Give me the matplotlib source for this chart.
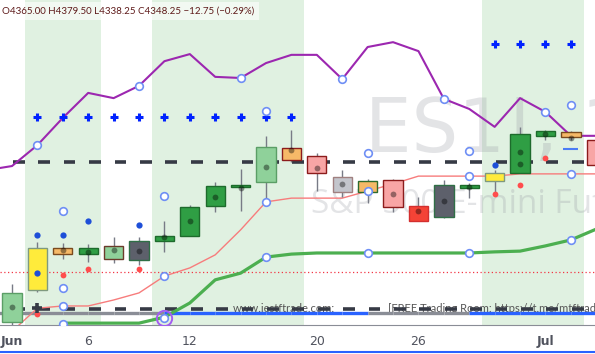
import matplotlib
matplotlib.use("Agg")
import matplotlib.pyplot as plt

# daily bars, Jun 1 .. Jul 6 (index 0..23), prices
bars = list(range(24))
opens = [4243.25, 4264.75, 4292.75, 4288.75, 4285.5, 4297.5, 4297.5, 4301.0, 4321.0, 4333.75, 4337.0, 4351.75,
         4354.5, 4340.5, 4330.25, 4338.5, 4321.0, 4313.5, 4333.0, 4337.75, 4343.0, 4368.0, 4370.5, 4365.0]
highs = [4268.75, 4297.0, 4296.25, 4295.5, 4300.25, 4300.25, 4311.0, 4321.75, 4337.0, 4345.75, 4367.75, 4372.0,
         4356.5, 4345.0, 4339.0, 4339.0, 4327.0, 4338.5, 4336.5, 4345.0, 4374.0, 4372.0, 4371.25, 4379.5]
lows = [4239.25, 4263.5, 4285.5, 4283.5, 4282.75, 4281.5, 4290.25, 4301.0, 4317.0, 4317.5, 4325.0, 4350.5,
        4331.0, 4327.0, 4323.0, 4317.0, 4311.0, 4313.0, 4326.25, 4329.75, 4343.0, 4365.25, 4365.25, 4338.25]
closes = [4262.75, 4292.75, 4288.75, 4292.75, 4294.25, 4284.75, 4301.0, 4320.25, 4334.5, 4335.0, 4360.5, 4359.75,
          4343.0, 4330.25, 4337.75, 4320.25, 4311.0, 4335.0, 4335.0, 4343.0, 4369.25, 4371.25, 4367.25, 4348.25]

tick_bars = [0, 3, 7, 12, 16, 21]
tick_labels = ["Jun", "6", "12", "20", "26", "Jul"]

shaded_bars = [1, 2, 3, 6, 7, 8, 9, 10, 11, 19, 20, 21, 22]

# purple line starts one bar before the window (-1)
purple_bars = list(range(-1, 24))
purple = [4345.0, 4347.75, 4361.75, 4380.0, 4396.75, 4393.25, 4401.5, 4418.0, 4422.75, 4407.5, 4406.75, 4416.75,
          4422.25, 4422.25, 4406.0, 4427.5, 4430.75, 4424.75, 4392.75, 4386.0, 4374.0, 4393.25, 4384.0, 4368.0, 4368.0]
salmon = [4237.0, 4252.5, 4254.0, 4254.0, 4258.0, 4262.75, 4274.0, 4279.5, 4288.25, 4305.0, 4323.75, 4326.25,
          4326.25, 4326.25, 4331.0, 4335.75, 4341.0, 4341.0, 4341.0, 4341.0, 4342.5, 4342.5, 4342.5, 4342.5]
green_bars = list(range(2, 24))
green = [4242.5, 4242.5, 4242.5, 4242.5, 4246.5, 4256.0, 4271.5, 4276.0, 4286.75, 4288.75, 4289.5, 4289.5,
         4289.5, 4289.5, 4289.5, 4289.5, 4289.5, 4290.25, 4290.75, 4294.25, 4298.25, 4305.5]

upper_level = 4350.5
lower_level = 4252.0
trend_level = 4249.25
red_level = 4276.75
trend_up = [False] * 6 + [True] * 8 + [False] * 4 + [True] * 6

plus_low_bars = list(range(1, 12))
plus_low = 4380.5
plus_high_bars = [19, 20, 21, 22]
plus_high = 4429.5

dot_bars = [0, 2, 3, 4, 5, 6, 7, 8, 9, 10, 11, 12, 13, 15, 16, 17, 18, 20, 20, 21, 22]
dot_levels = [4253.25, 4291.5, 4290.25, 4291.5, 4290.75, 4300.25, 4311.0, 4327.0, 4333.0, 4347.25, 4358.5,
              4346.5, 4335.75, 4329.0, 4317.5, 4324.25, 4333.75, 4357.25, 4349.0, 4369.25, 4366.5]
blue_bars = [1, 1, 2, 3, 5, 19]
blue_levels = [4301.5, 4276.0, 4301.5, 4311.0, 4308.25, 4348.5]
red_bars = [1, 2, 3, 5, 19, 20, 21]
red_levels = [4248.5, 4274.75, 4278.75, 4278.75, 4329.0, 4335.0, 4353.0]
ring_bars = [1, 2, 2, 2, 2, 5, 6, 6, 6, 9, 10, 10, 10, 13, 14, 14, 14, 17, 18, 18, 18, 21, 22, 22, 22]
ring_levels = [4361.75, 4317.5, 4266.0, 4254.0, 4242.0, 4401.5, 4327.75, 4274.0, 4246.0, 4406.75, 4384.5,
               4323.75, 4286.75, 4406.0, 4356.5, 4331.0, 4289.5, 4392.75, 4357.75, 4341.0, 4289.5, 4384.0,
               4388.75, 4342.5, 4298.25]
big_ring = (6, 4246.0)
cross = (1, 4252.5)
stop_mark = (22, 4359.25)

# candle styles
LG, LGE = "#8fd19a", "#5b9e66"
YE, YEE = "#ffeb3b", "#7f9a7f"
OR = "#f6b968"
GR, GRE = "#2f9e44", "#1e6b2c"
DG = "#5d606b"
PK, PKE = "#f8a5a5", "#8c1c1c"
body_colors = [LG, YE, OR, GR, LG, DG, GR, GR, GR, GR, LG, OR, PK, "#c3c5cc", OR, PK, "#f44336", DG,
               GR, YE, GR, GR, OR, PK]
edge_colors = [LGE, YEE, "#7a4a1e", GRE, "#6b3b2b", "#2f6f46", GRE, GRE, GRE, GRE, LGE, PKE, PKE, "#a08080",
               "#2e6b2e", PKE, "#d32f2f", "#2f6f46", GRE, YEE, GRE, GRE, "#7a4a1e", PKE]

fig = plt.figure(figsize=(5.95, 3.54), dpi=100)
ax = fig.add_axes([0, 29 / 354, 1, 325 / 354])
ax.set_xlim(-0.472, 22.95)
ax.set_ylim(4241.25, 4459.0)

for b in shaded_bars:
    ax.axvspan(b - 0.5, b + 0.5, color="#4caf50", alpha=0.17, lw=0, zorder=0)

# watermark
ax.text(365 / 595, 1 - 152 / 325, "ES1!, 1D", transform=ax.transAxes, fontsize=53, color="#9598a1",
        alpha=0.26, ha="left", va="baseline", zorder=1)
ax.text(311 / 595, 1 - 213 / 325, "S&P 500 E-mini Futures", transform=ax.transAxes, fontsize=24,
        family="Open Sans", color="#9598a1", alpha=0.26, ha="left", va="baseline", zorder=1)

# footer texts
ax.text(8.7, lower_level, "www.iestftrade.com:", fontsize=8, color="#555555", va="center",
        family="Lato", zorder=2)
ax.text(14.8, lower_level, "[FREE Trading Room: https://t.me/mtftrade", fontsize=8,
        color="#555555", va="center", family="Lato", zorder=2)

# horizontal levels
ax.axhline(red_level, color="#f23645", lw=0.9, ls=(0, (1, 2)), zorder=2)
for b in range(-1, 24):
    ax.hlines(upper_level, b + 0.04, b + 0.5, color="#363a45", lw=2.6, zorder=3)
    ax.hlines(lower_level, b + 0.04, b + 0.5, color="#363a45", lw=2.6, zorder=3)
ax.hlines(trend_level, -1, 0, color="#8a8d96", lw=2.4, zorder=3)
for b, up in zip(bars, trend_up):
    ax.hlines(trend_level, b, b + 1, color="#2962ff" if up else "#8a8d96", lw=2.4, zorder=3)

# lines
ax.plot(purple_bars, purple, color="#9c27b0", lw=1.5, zorder=4)
ax.plot(bars, salmon, color="#f77c7c", lw=1.0, zorder=4)
ax.plot(green_bars, green, color="#4caf50", lw=2.3, zorder=4)

# candles
ax.vlines(bars, lows, highs, color="#787b86", lw=1, zorder=5)
body_low = [min(o, c) for o, c in zip(opens, closes)]
body_h = [max(abs(c - o), 0.6) for o, c in zip(opens, closes)]
ax.bar(bars, body_h, bottom=body_low, width=0.76, color=body_colors, edgecolor=edge_colors, lw=1, zorder=6)

# markers
ax.plot(dot_bars, dot_levels, "o", ms=4.2, color="black", alpha=0.4, mew=0, zorder=7)
ax.plot(plus_low_bars, [plus_low] * len(plus_low_bars), "+", ms=6, mew=2.2, color="#0022ff", zorder=7)
ax.plot(plus_high_bars, [plus_high] * len(plus_high_bars), "+", ms=6, mew=2.2, color="#0022ff", zorder=7)
ax.plot(blue_bars, blue_levels, "o", ms=4.5, color="#1e4fd8", mew=0, zorder=7)
ax.plot(red_bars, red_levels, "o", ms=4.2, color="#ff4d4d", mew=0, zorder=7)
ax.plot(ring_bars, ring_levels, "o", ms=5.5, mfc="white", mec="#6f8ff5", mew=1.2, zorder=8)
ax.plot(*big_ring, "o", ms=11, mfc="none", mec="#a35cf0", mew=1.4, zorder=8)
ax.plot(*cross, "+", ms=7, mew=2.6, color="#363a45", zorder=8)
ax.hlines(stop_mark[1], stop_mark[0] - 0.3, stop_mark[0] + 0.3, color="#4a7cf5", lw=1.5, zorder=8)

# header
ax.text(2 / 595, 1 - 11 / 325, "O4365.00 H4379.50 L4338.25 C4348.25 \u221212.75 (\u22120.29%)",
        transform=ax.transAxes, fontsize=7, color="#5e1a1a", va="center", family="Lato", zorder=9,
        bbox=dict(boxstyle="square,pad=0.45", fc="white", ec="none", alpha=0.6))

ax.set_xticks(tick_bars, tick_labels)
for lbl in ax.get_xticklabels():
    if lbl.get_text() in ("Jun", "Jul"):
        lbl.set_fontweight("bold")
ax.tick_params(axis="x", length=0, pad=7, labelsize=9, labelcolor="#50535e")
ax.set_yticks([])
for s in ("top", "left", "right"):
    ax.spines[s].set_visible(False)
ax.spines["bottom"].set_color("#8a8d96")

fig.add_artist(plt.Line2D([0, 1], [2 / 354, 2 / 354], color="#2962ff", lw=1.5))

fig.savefig("out.png", dpi=100)
